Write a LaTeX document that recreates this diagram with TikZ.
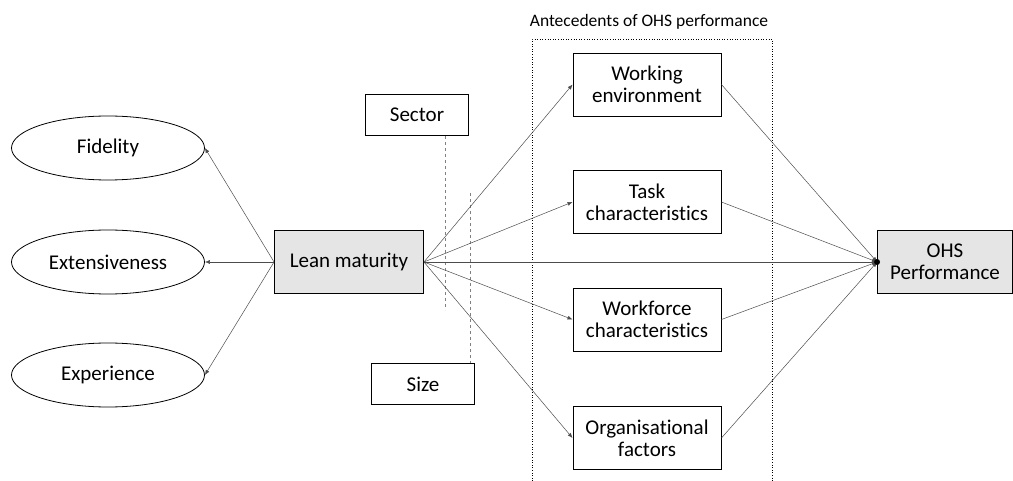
\documentclass[tikz,border=0pt]{standalone}
\usepackage{fontspec}
\setmainfont{Carlito}[Ligatures=NoCommon]
\usetikzlibrary{arrows.meta,shapes.geometric}

\begin{document}
\begin{tikzpicture}[x=1pt,y=-1pt,>={Latex[length=5pt,width=4pt]},
  every node/.style={font=\fontsize{21}{22}\selectfont},
  factor/.style={draw,line width=0.9pt,minimum width=148pt,minimum height=63pt,align=center},
  core/.style={factor,fill=black!10},
  dim/.style={draw,ellipse,line width=0.8pt,minimum width=193pt,minimum height=64pt},
  ctrl/.style={draw,line width=0.9pt,minimum width=103pt,minimum height=41pt},
  link/.style={->,draw=black!70,line width=0.5pt}]
  \useasboundingbox (0,0) rectangle (1013,481);
  % dimensions of lean maturity
  \node[dim] (fid) at (108,148) {Fidelity};
  \node[dim] (ext) at (108,262) {Extensiveness};
  \node[dim] (exp) at (108,375) {Experience};
  \node[core,minimum width=149pt] (lean) at (349,262) {Lean maturity};
  % control variables
  \node[ctrl] (sector) at (417,115) {Sector};
  \node[ctrl] (size) at (423,384) {Size};
  \draw[dashed,black!50,line width=0.6pt] (445,136) -- (445,310);
  \draw[dashed,black!50,line width=0.6pt] (470,193) -- (size.north -| 470,0);
  % antecedents
  \draw[dotted,line width=0.6pt] (532,481) -- (532,39) -- (772,39) -- (772,481);
  \node[font=\fontsize{17.5}{20}\selectfont] (ante) at (649,22) {Antecedents of OHS performance};
  \node[factor] (work) at (647,84.5) {Working\\environment};
  \node[factor] (task) at (647,202) {Task\\characteristics};
  \node[factor] (force) at (647,319.5) {Workforce\\characteristics};
  \node[factor] (org) at (647,438) {Organisational\\factors};
  \node[core,minimum width=135pt] (ohs) at (945,262) {OHS\\Performance};
  % paths
  \foreach \d in {fid,ext,exp}
    \draw[link] (lean.west) -- (\d.east);
  \foreach \a in {work,task,force,org}{
    \draw[link] (lean.east) -- (\a.west);
    \draw[link] (\a.east) -- (ohs.west);
  }
  \draw[link] (lean.east) -- (ohs.west);
  \fill (ohs.west) circle(3pt);
\end{tikzpicture}
\end{document}
